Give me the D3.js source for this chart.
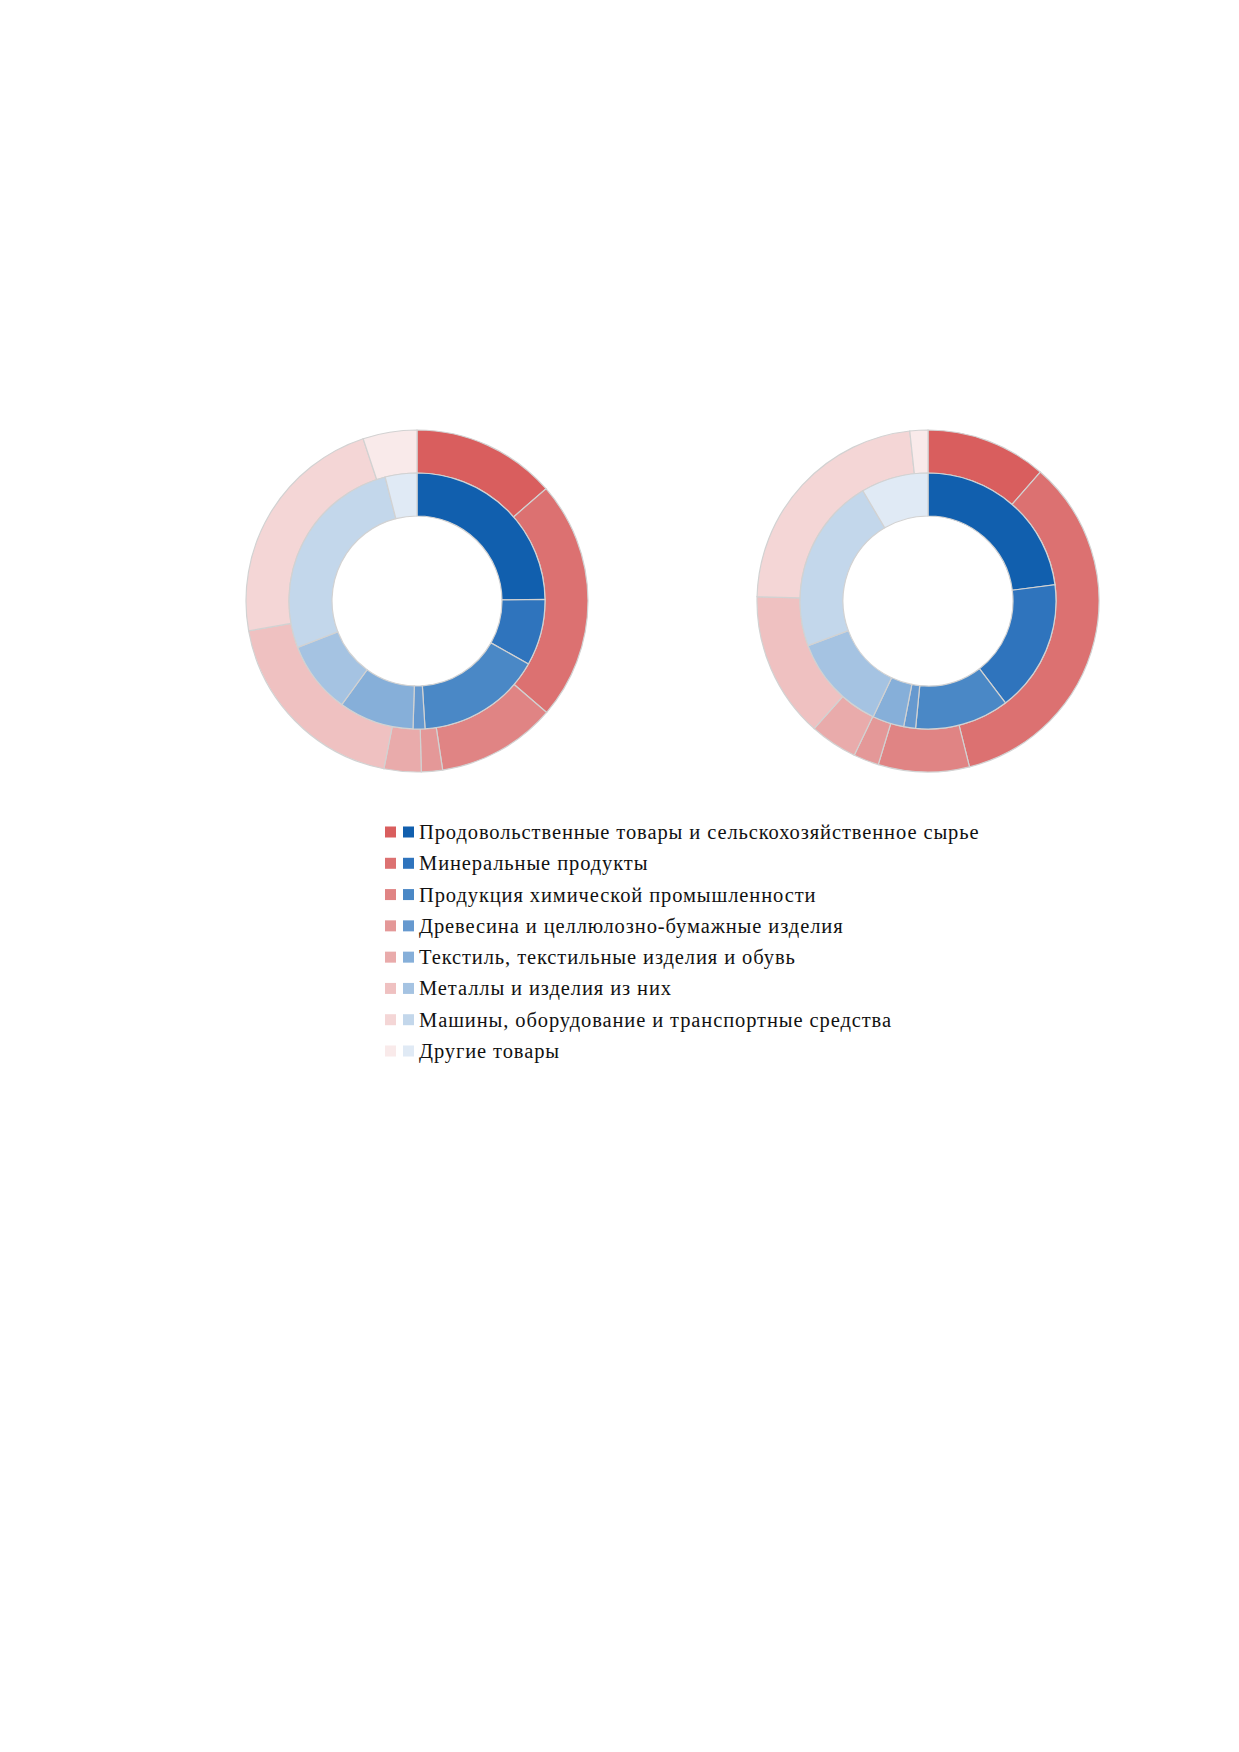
<!DOCTYPE html>
<html>
<head>
<meta charset="utf-8">
<script src="https://cdn.jsdelivr.net/npm/d3@7"></script>
<style>
  body { margin: 0; background: #fff; }
  .legend text { font-family: "Liberation Serif", "Times New Roman", serif; font-size: 20.5px; letter-spacing: 0.9px; fill: #111; }
</style>
</head>
<body>
<div id="chart"></div>
<script>
// categories (legend order)
var categories = [
    "Продовольственные товары и сельскохозяйственное сырье",
    "Минеральные продукты",
    "Продукция химической промышленности",
    "Древесина и целлюлозно-бумажные изделия",
    "Текстиль, текстильные изделия и обувь",
    "Металлы и изделия из них",
    "Машины, оборудование и транспортные средства",
    "Другие товары"
];

// shares, % (outer red ring / inner blue ring), left and right donut
var outerLeft = [13.6, 22.7, 11.3, 2.0, 3.5, 19.1, 22.7, 5.1];
var innerLeft = [24.8, 8.4, 15.8, 1.5, 9.5, 9.1, 26.9, 4.0];
var outerRight = [11.4, 34.7, 8.6, 2.4, 4.5, 13.8, 22.9, 1.7];
var innerRight = [23.0, 16.7, 11.9, 1.5, 4.0, 12.3, 22.2, 8.5];

var reds = ["#d95e5e", "#dc7171", "#e08484", "#e49898", "#e9abab", "#efc1c1", "#f4d6d6", "#f9eaea"];
var blues = ["#115fae", "#2f74bd", "#4a88c6", "#6699cf", "#86afd9", "#a5c3e2", "#c3d7eb", "#e0eaf5"];

var width = 1239, height = 1752;
var svg = d3.select("#chart").append("svg").attr("width", width).attr("height", height);

var pie = d3.pie().sort(null).value(d => d);
var arcOuter = d3.arc().innerRadius(128).outerRadius(171);
var arcInner = d3.arc().innerRadius(85).outerRadius(128);

function donut(cx, cy, outerVals, innerVals) {
    var g = svg.append("g").attr("transform", `translate(${cx},${cy})`);
    g.selectAll("path.outer").data(pie(outerVals)).enter().append("path")
        .attr("class", "outer").attr("d", arcOuter)
        .style("fill", (d, i) => reds[i]).style("stroke", "#d2d2d2").style("stroke-width", 1.2);
    g.selectAll("path.inner").data(pie(innerVals)).enter().append("path")
        .attr("class", "inner").attr("d", arcInner)
        .style("fill", (d, i) => blues[i]).style("stroke", "#d2d2d2").style("stroke-width", 1.2);
}

donut(417, 601, outerLeft, innerLeft);
donut(928, 601, outerRight, innerRight);

// legend
var y = d3.scalePoint().domain(d3.range(categories.length)).range([832, 1051]);
var legend = svg.append("g").attr("class", "legend");
var rows = legend.selectAll("g.row").data(categories).enter().append("g")
    .attr("class", "row").attr("transform", (d, i) => `translate(0,${y(i)})`);
rows.append("rect").attr("x", 385).attr("y", -5.5).attr("width", 11).attr("height", 11)
    .style("fill", (d, i) => reds[i]);
rows.append("rect").attr("x", 403).attr("y", -5.5).attr("width", 11).attr("height", 11)
    .style("fill", (d, i) => blues[i]);
rows.append("text").attr("x", 419).attr("y", 7).text(d => d);
</script>
</body>
</html>
